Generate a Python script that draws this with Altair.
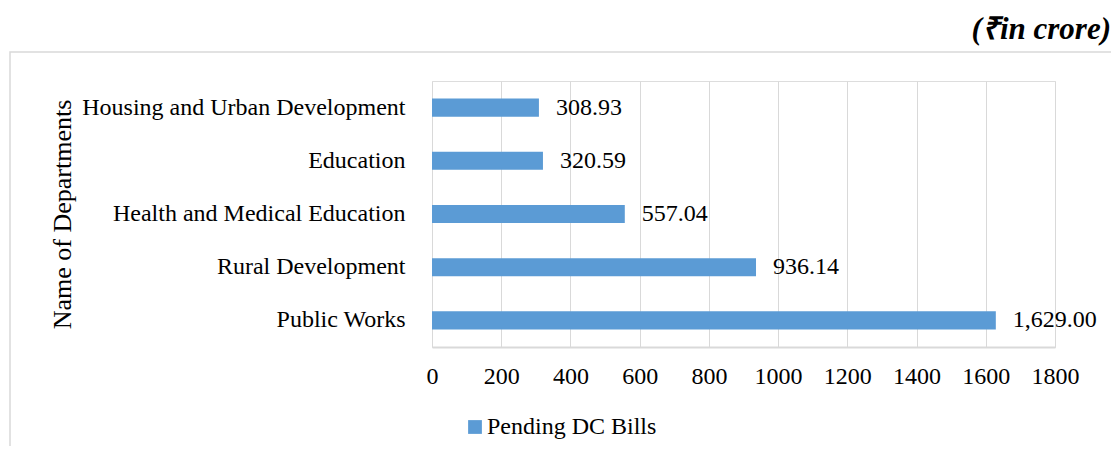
import altair as alt
import pandas as pd

departments = ["Housing and Urban Development", "Education", "Health and Medical Education",
               "Rural Development", "Public Works"]
pending = [308.93, 320.59, 557.04, 936.14, 1629.00]
value_labels = ["308.93", "320.59", "557.04", "936.14", "1,629.00"]
series_name = "Pending DC Bills"
x_ticks = [0, 200, 400, 600, 800, 1000, 1200, 1400, 1600, 1800]
unit_note = "(₹in crore)"
y_title = "Name of Departments"

df = pd.DataFrame({
    "Department": departments,
    "Amount": pending,
    "Label": value_labels,
    "Series": [series_name] * len(departments),
})

FONT = "Liberation Serif"
BLUE = "#5B9BD5"
GRID = "#d9d9d9"
W, H = 623, 266

y_enc = alt.Y(
    "Department:N", sort=departments,
    scale=alt.Scale(paddingInner=0.66, paddingOuter=0.33),
    axis=alt.Axis(
        title=y_title, titleFont=FONT, titleFontSize=26, titleFontWeight="normal",
        titleColor="black", titleX=-370, titleY=133, titleAngle=270,
        titleAlign="center", titleBaseline="middle",
        labelFont=FONT, labelFontSize=24, labelColor="black", labelPadding=27,
        labelLimit=0, ticks=False, domain=False,
    ),
)
x_enc = alt.X(
    "Amount:Q",
    scale=alt.Scale(domain=[0, 1800], nice=False),
    axis=alt.Axis(
        values=x_ticks, title=None, grid=True, gridColor=GRID, gridWidth=1,
        domainColor=GRID, domainWidth=2, ticks=False, labelFlush=False, labelOverlap=False,
        labelFont=FONT, labelFontSize=24, labelColor="black", labelPadding=17,
        format="d",
    ),
)

bars = alt.Chart(df).mark_bar().encode(
    x=x_enc, y=y_enc,
    color=alt.Color("Series:N", scale=alt.Scale(range=[BLUE]),
                    legend=alt.Legend(orient="none", legendX=31, legendY=334, title=None,
                                      symbolType="square", symbolSize=190, symbolStrokeWidth=0,
                                      labelFont=FONT, labelFontSize=24, labelColor="black",
                                      labelLimit=0, labelOffset=0, padding=0,
                                      direction="horizontal")),
)

texts = alt.Chart(df).mark_text(align="left", baseline="middle", dx=17, font=FONT,
                                fontSize=24, color="black").encode(
    x=alt.X("Amount:Q"), y=alt.Y("Department:N", sort=departments), text="Label:N")

box = alt.Chart(alt.Data(values=[{}])).mark_rect(fillOpacity=0, stroke=GRID, strokeWidth=1.5).encode(
    x=alt.value(-422), x2=alt.value(680), y=alt.value(-29), y2=alt.value(420))

note = alt.Chart(alt.Data(values=[{}])).mark_text(
    align="right", baseline="middle", font=FONT, fontSize=31, fontStyle="italic",
    fontWeight="bold", color="black").encode(
    x=alt.value(679), y=alt.value(-51), text=alt.value(unit_note))

chart = alt.layer(box, bars, texts, note).properties(
    width=W, height=H,
    autosize=alt.AutoSizeParams(type="none"),
    padding={"left": 424, "top": 73, "right": 56, "bottom": 99},
).configure_view(strokeWidth=0).configure(background="white")

chart.save("out.html", embed_options={"renderer": "svg", "actions": False})
